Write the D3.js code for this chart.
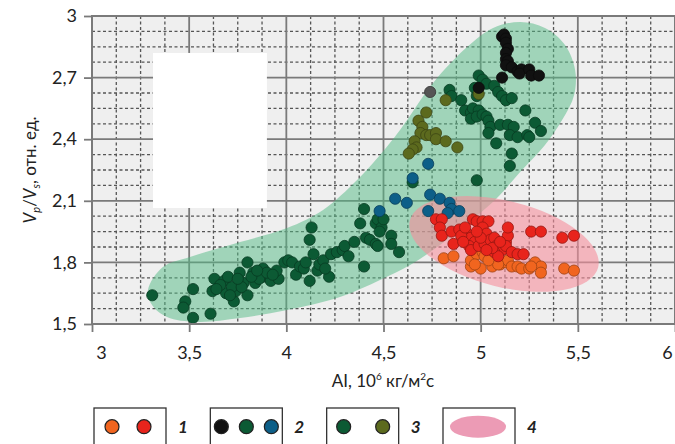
<!DOCTYPE html>
<html>
<head>
<meta charset="utf-8">
<script src="https://cdn.jsdelivr.net/npm/d3@7"></script>
<style>
body{margin:0;background:#fff}
svg{display:block}
text{font-family:Lato,"Open Sans",sans-serif;fill:#222}
</style>
</head>
<body>
<svg id="chart" width="675" height="444"></svg>
<script>
// values: [AI, Vp/Vs]
var ptsGreen = [
  [3.31,1.64],[3.52,1.67],[3.48,1.61],[3.47,1.58],[3.52,1.53],[3.61,1.55],[3.62,1.66],[3.63,1.72],
  [3.68,1.71],[3.69,1.65],[3.73,1.61],[3.74,1.66],[3.76,1.75],[3.78,1.70],[3.80,1.64],[3.80,1.80],
  [3.83,1.75],[3.84,1.70],[3.88,1.77],[3.88,1.73],[3.92,1.71],[3.96,1.72],[3.99,1.80],[4.01,1.81],
  [4.03,1.80],[4.05,1.74],[4.07,1.78],[4.09,1.77],[4.12,1.71],[4.14,1.84],[4.12,1.91],[4.13,1.97],
  [4.16,1.76],[4.17,1.79],[4.19,1.81],[4.22,1.73],[4.23,1.84],[4.26,1.85],[4.29,1.86],[4.30,1.88],
  [4.32,1.83],[4.35,1.90],[4.40,2.06],[4.38,1.99],[4.40,1.78],[4.41,1.92],[4.43,1.91],[4.46,1.89],
  [4.47,1.88],[4.46,1.99],[4.47,2.01],[4.49,1.97],[4.48,1.95],[4.50,2.01],[4.54,1.93],[4.54,1.89],
  [4.58,1.85],[4.65,2.19],[4.98,2.20],
  [3.66,1.69],[3.72,1.68],[3.86,1.72],[3.70,1.73],[3.95,1.76],[3.77,1.68],[3.90,1.75],
  [3.64,1.67],[3.71,1.64],[3.75,1.72],[3.82,1.73],[3.85,1.76],[3.93,1.74],[4.10,1.80],[4.20,1.77],
  [4.99,2.71],[5.01,2.69],[5.03,2.67],[4.97,2.65],[4.98,2.61],[5.07,2.66],[5.09,2.63],[5.11,2.61],
  [5.13,2.59],[5.16,2.60],[4.84,2.64],[4.85,2.61],[4.90,2.59],[4.92,2.54],[4.95,2.53],[4.96,2.55],
  [4.99,2.54],[4.95,2.50],[4.98,2.51],[5.01,2.52],[5.03,2.51],[5.04,2.49],[5.05,2.46],[5.04,2.43],
  [5.10,2.47],[5.14,2.47],[5.17,2.46],[5.15,2.42],[5.19,2.41],[5.24,2.42],[5.25,2.41],[5.28,2.48],
  [5.31,2.44],[5.23,2.54],[5.08,2.38],[5.16,2.33],[5.15,2.27]
];
var ptsBlack = [
  [5.11,2.90],[5.12,2.91],[5.13,2.89],[5.13,2.87],[5.14,2.84],[5.13,2.82],[5.13,2.79],[5.14,2.78],
  [5.13,2.76],[5.16,2.75],[5.19,2.73],[5.21,2.74],[5.20,2.72],[5.25,2.74],[5.26,2.71],[5.30,2.71],
  [5.11,2.70],[4.99,2.65]
];
var ptsGray = [[4.74,2.63]];
var ptsOlive = [
  [4.82,2.59],[4.99,2.62],[4.72,2.53],[4.68,2.49],[4.70,2.46],[4.69,2.43],[4.72,2.42],[4.66,2.39],
  [4.67,2.36],[4.65,2.35],[4.63,2.33],[4.74,2.42],[4.77,2.43],[4.77,2.40],[4.82,2.39],[4.88,2.36]
];
var ptsBlue = [
  [4.73,2.28],[4.65,2.21],[4.56,2.11],[4.62,2.09],[4.48,2.05],[4.74,2.13],[4.79,2.11],[4.73,2.05],
  [4.84,2.09],[4.85,2.06],[4.83,2.04],[4.89,2.05]
];
var ptsRed = [
  [4.77,2.01],[4.80,2.01],[4.79,1.97],[4.80,1.93],[4.86,1.89],[4.85,1.95],[4.89,1.96],[4.96,2.01],
  [4.98,2.00],[5.01,2.00],[5.04,2.00],[5.01,1.97],[5.03,1.94],[4.93,1.94],[4.95,1.92],[4.97,1.90],
  [4.94,1.88],[4.95,1.86],[4.99,1.88],[5.02,1.89],[5.05,1.91],[5.07,1.92],[5.08,1.88],[5.11,1.86],
  [5.13,1.90],[5.14,1.93],[5.13,1.88],[5.16,1.85],[5.19,1.84],[5.22,1.84],[5.14,1.97],[5.26,1.95],
  [5.31,1.95],[5.42,1.92],[5.48,1.93],[5.07,1.85],[5.09,1.83],[4.90,1.93],[5.00,1.92],[5.06,1.87],
  [4.92,1.97],[4.98,1.95],[5.03,1.86],[5.10,1.90],[4.91,1.90]
];
var ptsOrange = [
  [4.81,1.82],[4.86,1.83],[4.95,1.78],[4.95,1.81],[5.00,1.77],[4.98,1.84],[5.01,1.85],[5.02,1.83],
  [5.06,1.78],[5.10,1.79],[5.13,1.80],[5.14,1.81],[5.16,1.78],[5.19,1.78],[5.21,1.77],[5.25,1.77],
  [5.28,1.80],[5.31,1.78],[5.31,1.75],[5.26,1.78],[5.43,1.77],[5.48,1.76],[5.09,1.79],[4.97,1.79],
  [5.04,1.81]
];
// outline of the green field, in data units
var bandOutline = [
  [3.288,1.665],[3.365,1.777],[3.504,1.826],[3.762,1.899],[4.004,1.967],[4.189,2.055],[4.364,2.201],
  [4.482,2.323],[4.585,2.445],[4.755,2.674],[4.930,2.849],[5.064,2.942],[5.203,2.971],[5.331,2.942],
  [5.434,2.859],[5.486,2.737],[5.481,2.615],[5.419,2.493],[5.331,2.372],[5.203,2.240],[5.074,2.104],
  [4.920,1.982],[4.791,1.885],[4.637,1.787],[4.482,1.714],[4.276,1.631],[4.004,1.568],[3.762,1.529],
  [3.540,1.510],[3.386,1.534],[3.309,1.592]
];
var ellipseCenter = [5.12, 1.89];
var xTicks = [3, 3.5, 4, 4.5, 5, 5.5, 6];
var yTicks = [1.5, 1.8, 2.1, 2.4, 2.7, 3];
var legendItems = [
  {label: "1", keys: ["orange", "red"]},
  {label: "2", keys: ["black", "green", "blue"]},
  {label: "3", keys: ["green", "olive"]},
  {label: "4", keys: []}
];

var colors = {
  green: "#0c5a34", black: "#111111", gray: "#555555", olive: "#5c6a1e",
  blue: "#0d5f88", red: "#e8241c", orange: "#f1651f"
};

var svg = d3.select("#chart");
var x = d3.scaleLinear().domain([3, 6]).range([92, 675]);
var y = d3.scaleLinear().domain([1.5, 3]).range([324, 16]);
var fmt = function(d){ return String(d).replace(".", ","); };

// plot background
svg.append("rect")
  .attr("x", x(3)).attr("y", y(3))
  .attr("width", x(6) - x(3)).attr("height", y(1.5) - y(3))
  .attr("fill", "#efefef");

// minor dashed grid
var grid = svg.append("g");
var xMinor = d3.range(0, 25).map(function(i){ return 3 + i * 0.125; }).filter(function(d, i){ return i % 4 != 0; });
var yMinor = d3.range(0, 21).map(function(i){ return 1.5 + i * 0.075; }).filter(function(d, i){ return i % 4 != 0; });
grid.selectAll(".xm").data(xMinor).enter().append("line")
  .attr("x1", x).attr("x2", x).attr("y1", y(3)).attr("y2", y(1.5))
  .attr("stroke", "#555").attr("stroke-width", 1.3).attr("stroke-dasharray", "3,2.5");
grid.selectAll(".ym").data(yMinor).enter().append("line")
  .attr("y1", y).attr("y2", y).attr("x1", x(3)).attr("x2", x(6))
  .attr("stroke", "#555").attr("stroke-width", 1.3).attr("stroke-dasharray", "3,2.5");
grid.selectAll(".xM").data(xTicks).enter().append("line")
  .attr("x1", x).attr("x2", x).attr("y1", y(3)).attr("y2", y(1.5))
  .attr("stroke", "#7a7a7a").attr("stroke-width", 1.8);
grid.selectAll(".yM").data(yTicks).enter().append("line")
  .attr("y1", y).attr("y2", y).attr("x1", x(3)).attr("x2", x(6))
  .attr("stroke", "#7a7a7a").attr("stroke-width", 1.8);

// blank box inside the plot
svg.append("rect")
  .attr("x", x(3.314)).attr("y", y(2.82))
  .attr("width", x(3.90) - x(3.314)).attr("height", y(2.065) - y(2.82))
  .attr("fill", "#ffffff");

// green field
svg.append("path")
  .datum(bandOutline)
  .attr("d", d3.line().x(function(d){ return x(d[0]); }).y(function(d){ return y(d[1]); })
    .curve(d3.curveCatmullRomClosed.alpha(0.5)))
  .attr("fill", "rgb(82,186,132)").attr("fill-opacity", 0.5);

// pink field
svg.append("ellipse")
  .attr("cx", 0).attr("cy", 0).attr("rx", 97).attr("ry", 43)
  .attr("transform", "translate(" + x(ellipseCenter[0]) + "," + y(ellipseCenter[1]) + ") rotate(14)")
  .attr("fill", "rgb(245,141,155)").attr("fill-opacity", 0.6);

// points
function drawPts(data, key){
  svg.append("g").selectAll("circle").data(data).enter().append("circle")
    .attr("cx", function(d){ return x(d[0]); })
    .attr("cy", function(d){ return y(d[1]); })
    .attr("r", 5.6)
    .attr("fill", colors[key])
    .attr("stroke", d3.color(colors[key]).darker(1.2))
    .attr("stroke-width", 0.8);
}
drawPts(ptsGreen, "green");
drawPts(ptsOlive, "olive");
drawPts(ptsBlue, "blue");
drawPts(ptsOrange, "orange");
drawPts(ptsRed, "red");
drawPts(ptsGray, "gray");
drawPts(ptsBlack, "black");

// frame
svg.append("rect")
  .attr("x", x(3)).attr("y", y(3))
  .attr("width", x(6) - x(3)).attr("height", y(1.5) - y(3))
  .attr("fill", "none").attr("stroke", "#7a7a7a").attr("stroke-width", 2);

// axes
var yAxis = svg.append("g").attr("transform", "translate(" + x(3) + ",0)")
  .call(d3.axisLeft(y).tickValues(yTicks).tickFormat(fmt).tickSize(8).tickPadding(7));
var xAxis = svg.append("g").attr("transform", "translate(0," + y(1.5) + ")")
  .call(d3.axisBottom(x).tickValues(xTicks).tickFormat(fmt).tickSize(8).tickPadding(14));
[yAxis, xAxis].forEach(function(a){
  a.select(".domain").remove();
  a.selectAll(".tick line").attr("stroke", "#7a7a7a").attr("stroke-width", 1.8);
  a.selectAll(".tick text").attr("font-size", 18).attr("font-family", "Lato, 'Open Sans', sans-serif").attr("fill", "#222");
});
xAxis.selectAll(".tick text").attr("dx", function(d){ return d == 3 ? 9 : (d == 6 ? -8 : 0); });

// axis titles
var xt = svg.append("text").attr("x", 383).attr("y", 387).attr("text-anchor", "middle").attr("font-size", 17);
xt.append("tspan").text("AI, 10");
xt.append("tspan").attr("font-size", 10).attr("dy", -7).text("6");
xt.append("tspan").attr("dy", 7).text(" кг/м");
xt.append("tspan").attr("font-size", 10).attr("dy", -7).text("2");
xt.append("tspan").attr("dy", 7).text("с");

var yt = svg.append("text").attr("transform", "translate(36,170) rotate(-90)")
  .attr("text-anchor", "middle").attr("font-size", 17);
yt.append("tspan").attr("font-style", "italic").text("V");
yt.append("tspan").attr("font-style", "italic").attr("font-size", 11).attr("dy", 4).text("p");
yt.append("tspan").attr("dy", -4).text("/");
yt.append("tspan").attr("font-style", "italic").text("V");
yt.append("tspan").attr("font-style", "italic").attr("font-size", 11).attr("dy", 4).text("s");
yt.append("tspan").attr("dy", -4).text(", отн. ед.");

// legend
var legendX = d3.scalePoint().domain(legendItems.map(function(d){ return d.label; })).range([94, 443]);
var lg = svg.append("g").selectAll("g").data(legendItems).enter().append("g")
  .attr("transform", function(d){ return "translate(" + legendX(d.label) + ",408)"; });
lg.append("rect").attr("width", 72).attr("height", 50)
  .attr("fill", "#fff").attr("stroke", "#333").attr("stroke-width", 1.3);
lg.append("text").attr("x", 84).attr("y", 25).attr("font-size", 17)
  .attr("font-weight", "bold").attr("font-style", "italic").text(function(d){ return d.label; });
lg.each(function(d){
  var g = d3.select(this);
  if (d.keys.length == 0) {
    g.append("ellipse").attr("cx", 35).attr("cy", 18.7).attr("rx", 28).attr("ry", 11).attr("fill", "#ec9bb5");
    return;
  }
  var pos = d.keys.length == 3 ? [11, 36, 61] : (d.label == "1" ? [18, 50] : [17, 56]);
  d.keys.forEach(function(k, i){
    g.append("circle").attr("cx", pos[i]).attr("cy", 18.7).attr("r", 7)
      .attr("fill", colors[k]).attr("stroke", "#222").attr("stroke-width", 1.2);
  });
});
</script>
</body>
</html>
